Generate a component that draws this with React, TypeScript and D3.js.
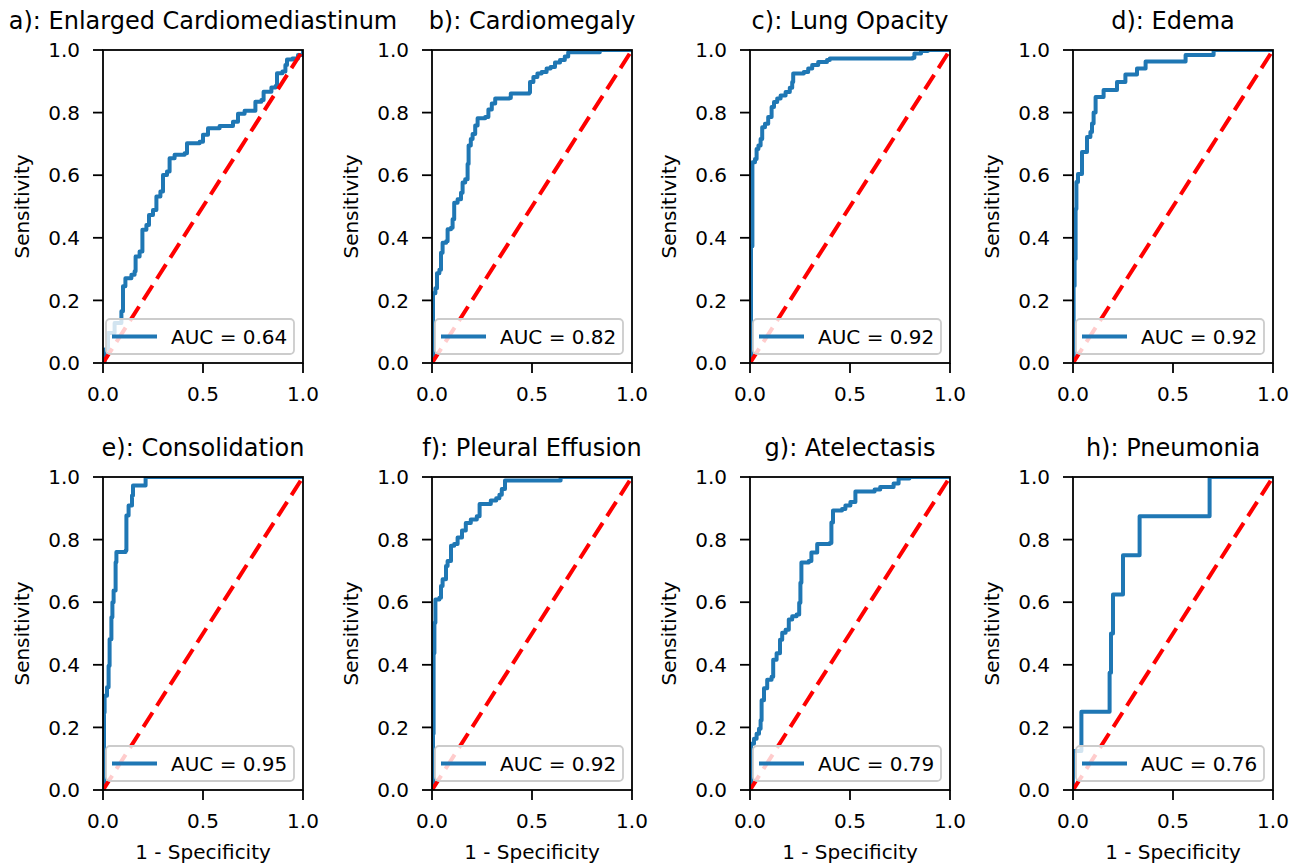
import * as d3 from 'd3';

// panel titles and AUC legend texts
const titles = [
  'a): Enlarged Cardiomediastinum',
  'b): Cardiomegaly',
  'c): Lung Opacity',
  'd): Edema',
  'e): Consolidation',
  'f): Pleural Effusion',
  'g): Atelectasis',
  'h): Pneumonia',
];
const aucs = ['0.64', '0.82', '0.92', '0.92', '0.95', '0.92', '0.79', '0.76'];

const xTicks = [0, 0.5, 1.0];
const yTicks = [0, 0.2, 0.4, 0.6, 0.8, 1.0];

// ROC points (1 - specificity, sensitivity)
const enlargedFpr = [0, 0.008, 0.025, 0.058, 0.092, 0.1, 0.112, 0.142, 0.158, 0.163, 0.183, 0.197, 0.217, 0.23, 0.25, 0.267, 0.287, 0.3, 0.32, 0.333, 0.358, 0.408, 0.42, 0.483, 0.5, 0.525, 0.583, 0.65, 0.675, 0.708, 0.762, 0.762, 0.792, 0.803, 0.842, 0.863, 0.87, 0.897, 0.912, 0.92, 0.947, 0.975, 1];
const enlargedTpr = [0, 0.043, 0.096, 0.128, 0.165, 0.245, 0.271, 0.282, 0.293, 0.34, 0.356, 0.426, 0.441, 0.473, 0.489, 0.532, 0.548, 0.601, 0.612, 0.654, 0.665, 0.67, 0.702, 0.707, 0.729, 0.75, 0.757, 0.771, 0.796, 0.806, 0.81, 0.835, 0.84, 0.867, 0.88, 0.885, 0.926, 0.931, 0.952, 0.97, 0.973, 0.984, 1];

const cardiomegalyFpr = [0, 0.005, 0.017, 0.025, 0.037, 0.045, 0.053, 0.071, 0.078, 0.095, 0.103, 0.111, 0.128, 0.145, 0.153, 0.166, 0.178, 0.183, 0.194, 0.203, 0.216, 0.228, 0.266, 0.282, 0.299, 0.316, 0.387, 0.394, 0.487, 0.49, 0.507, 0.527, 0.548, 0.573, 0.593, 0.615, 0.64, 0.664, 0.681, 0.839, 1];
const cardiomegalyTpr = [0, 0.223, 0.239, 0.287, 0.298, 0.352, 0.384, 0.389, 0.427, 0.432, 0.459, 0.512, 0.523, 0.544, 0.577, 0.587, 0.636, 0.695, 0.716, 0.732, 0.759, 0.782, 0.786, 0.81, 0.829, 0.845, 0.847, 0.861, 0.864, 0.898, 0.914, 0.925, 0.93, 0.941, 0.946, 0.96, 0.968, 0.979, 0.993, 1, 1];

const opacityFpr = [0, 0.005, 0.012, 0.025, 0.033, 0.042, 0.053, 0.061, 0.075, 0.091, 0.108, 0.12, 0.136, 0.153, 0.178, 0.199, 0.211, 0.216, 0.269, 0.291, 0.311, 0.341, 0.385, 0.399, 0.814, 0.822, 0.855, 0.889, 1];
const opacityTpr = [0, 0.373, 0.641, 0.652, 0.684, 0.695, 0.716, 0.753, 0.764, 0.786, 0.818, 0.834, 0.845, 0.855, 0.866, 0.879, 0.898, 0.925, 0.93, 0.941, 0.952, 0.962, 0.968, 0.973, 0.975, 0.989, 0.997, 1, 1];

const edemaFpr = [0, 0.003, 0.008, 0.013, 0.017, 0.025, 0.045, 0.07, 0.087, 0.095, 0.103, 0.113, 0.153, 0.22, 0.262, 0.32, 0.363, 0.563, 0.703, 1];
const edemaTpr = [0, 0.246, 0.332, 0.492, 0.578, 0.604, 0.674, 0.722, 0.738, 0.765, 0.8, 0.85, 0.872, 0.898, 0.922, 0.941, 0.963, 0.984, 1, 1];

const consolidationFpr = [0, 0.005, 0.008, 0.02, 0.028, 0.033, 0.042, 0.047, 0.053, 0.063, 0.067, 0.113, 0.117, 0.128, 0.145, 0.15, 0.213, 1];
const consolidationTpr = [0, 0.248, 0.301, 0.328, 0.397, 0.482, 0.552, 0.6, 0.637, 0.728, 0.76, 0.765, 0.877, 0.909, 0.941, 0.973, 1, 1];

const effusionFpr = [0, 0.005, 0.008, 0.012, 0.017, 0.037, 0.045, 0.053, 0.07, 0.078, 0.095, 0.111, 0.128, 0.15, 0.169, 0.194, 0.224, 0.238, 0.294, 0.321, 0.337, 0.349, 0.365, 0.643, 1];
const effusionTpr = [0, 0.18, 0.437, 0.534, 0.609, 0.614, 0.652, 0.673, 0.716, 0.732, 0.78, 0.786, 0.807, 0.829, 0.853, 0.864, 0.875, 0.914, 0.925, 0.932, 0.943, 0.962, 0.989, 1, 1];

const atelectasisFpr = [0, 0.005, 0.02, 0.033, 0.045, 0.053, 0.058, 0.07, 0.086, 0.108, 0.116, 0.133, 0.15, 0.161, 0.178, 0.194, 0.211, 0.233, 0.246, 0.252, 0.257, 0.294, 0.307, 0.336, 0.399, 0.407, 0.415, 0.46, 0.477, 0.502, 0.527, 0.623, 0.651, 0.718, 0.743, 0.797, 1];
const atelectasisTpr = [0, 0.148, 0.164, 0.18, 0.196, 0.223, 0.287, 0.325, 0.352, 0.362, 0.416, 0.437, 0.48, 0.502, 0.512, 0.545, 0.555, 0.561, 0.598, 0.662, 0.727, 0.732, 0.759, 0.786, 0.789, 0.855, 0.893, 0.898, 0.909, 0.92, 0.954, 0.96, 0.968, 0.979, 0.995, 1, 1];

const pneumoniaFpr = [0, 0, 0.042, 0.183, 0.19, 0.2, 0.25, 0.333, 0.683, 1];
const pneumoniaTpr = [0, 0.125, 0.25, 0.375, 0.5, 0.625, 0.75, 0.875, 1, 1];

const curves = [
  [enlargedFpr, enlargedTpr],
  [cardiomegalyFpr, cardiomegalyTpr],
  [opacityFpr, opacityTpr],
  [edemaFpr, edemaTpr],
  [consolidationFpr, consolidationTpr],
  [effusionFpr, effusionTpr],
  [atelectasisFpr, atelectasisTpr],
  [pneumoniaFpr, pneumoniaTpr],
];

const chance = [0, 1];

const W = 200;
const H = 313;
const lefts = [103, 432, 750, 1073];
const tops = [50, 477];
const font = 'DejaVu Sans, sans-serif';
const fs = 20;

const x = d3.scaleLinear().domain([0, 1]).range([0, W]);
const y = d3.scaleLinear().domain([0, 1]).range([H, 0]);
const fmt = d3.format('.1f');

const rocLine = d3
  .line<[number, number]>()
  .x((d) => x(d[0]))
  .y((d) => y(d[1]))
  .curve(d3.curveStepAfter);
const diagLine = d3
  .line<number>()
  .x((d) => x(d))
  .y((d) => y(d));

const Panel = ({ i }: { i: number }) => {
  const left = lefts[i % 4];
  const top = tops[Math.floor(i / 4)];
  const bottomRow = i >= 4;
  const [fpr, tpr] = curves[i];
  const pts = fpr.map((f, k) => [f, tpr[k]] as [number, number]);
  const clipId = 'clip' + i;
  const legW = 188;
  const legH = 35;
  const legX = W - 9 - legW;
  const legY = H - 9 - legH;
  return (
    <g transform={`translate(${left},${top})`}>
      <defs>
        <clipPath id={clipId}>
          <rect x={0} y={0} width={W} height={H} />
        </clipPath>
      </defs>
      <g clipPath={`url(#${clipId})`}>
        <path d={rocLine(pts) || ''} fill="none" stroke="#1f77b4" strokeWidth={4} strokeLinejoin="round" />
        <path d={diagLine(chance) || ''} fill="none" stroke="#ff0000" strokeWidth={4} strokeDasharray="17,8" />
      </g>
      {/* spines */}
      <rect x={0} y={0} width={W} height={H} fill="none" stroke="#000" strokeWidth={1.8} />
      {/* x ticks */}
      {xTicks.map((t) => (
        <g key={'x' + t} transform={`translate(${x(t)},${H})`}>
          <line y1={0} y2={10} stroke="#000" strokeWidth={1.8} />
          <text y={38} textAnchor="middle" fontFamily={font} fontSize={fs} fill="#000">
            {fmt(t)}
          </text>
        </g>
      ))}
      {/* y ticks */}
      {yTicks.map((t) => (
        <g key={'y' + t} transform={`translate(0,${y(t)})`}>
          <line x1={0} x2={-10} stroke="#000" strokeWidth={1.8} />
          <text x={-23} dy="0.36em" textAnchor="end" fontFamily={font} fontSize={fs} fill="#000">
            {fmt(t)}
          </text>
        </g>
      ))}
      <text
        transform={`translate(-74,${H / 2}) rotate(-90)`}
        textAnchor="middle"
        fontFamily={font}
        fontSize={fs}
        fill="#000"
      >
        Sensitivity
      </text>
      {bottomRow && (
        <text x={W / 2} y={H + 69} textAnchor="middle" fontFamily={font} fontSize={fs} fill="#000">
          1 - Specificity
        </text>
      )}
      <text x={W / 2} y={-21} textAnchor="middle" fontFamily={font} fontSize={24} fill="#000">
        {titles[i]}
      </text>
      {/* legend */}
      <g transform={`translate(${legX},${legY})`}>
        <rect width={legW} height={legH} rx={4} fill="#fff" fillOpacity={0.8} stroke="#cccccc" strokeWidth={1.8} />
        <line x1={6} x2={51} y1={legH / 2} y2={legH / 2} stroke="#1f77b4" strokeWidth={4} />
        <text x={65} y={legH / 2} dy="0.36em" fontFamily={font} fontSize={fs} fill="#000">
          {'AUC = ' + aucs[i]}
        </text>
      </g>
    </g>
  );
};

const App = () => {
  return (
    <svg
      width={1306}
      height={866}
      style={{ position: 'absolute', left: 0, top: 0, background: '#fff' }}
    >
      <rect width={1306} height={866} fill="#fff" />
      {titles.map((_, i) => (
        <Panel key={i} i={i} />
      ))}
    </svg>
  );
};

export default App;
